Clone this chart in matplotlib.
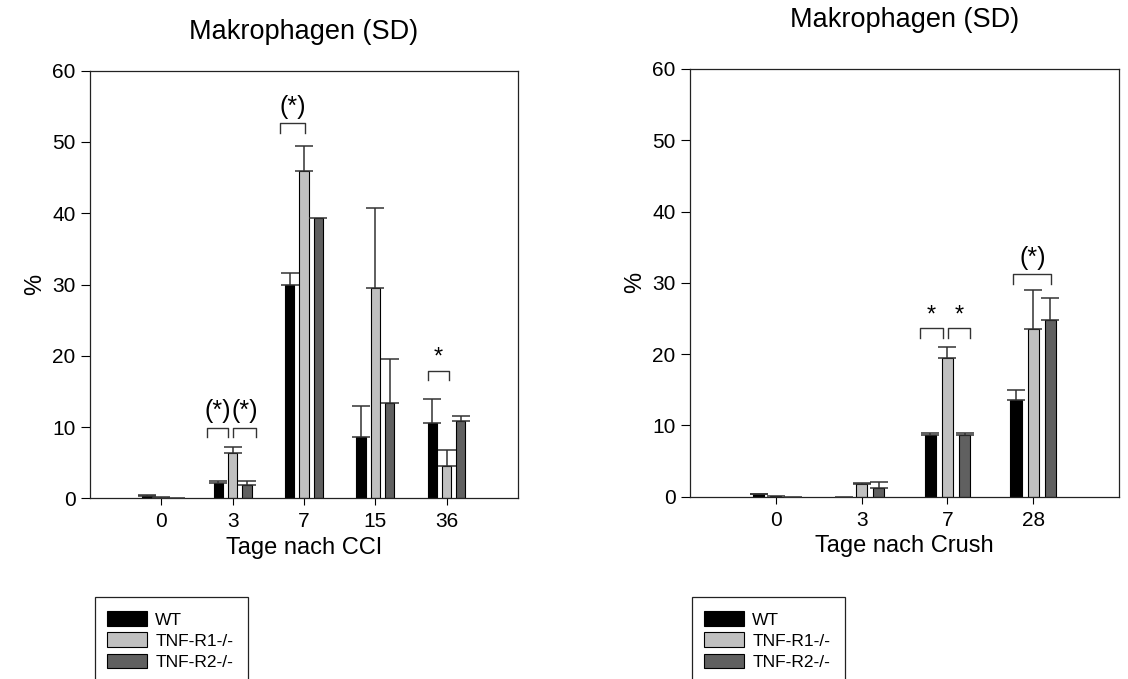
import matplotlib
matplotlib.use("Agg")
import matplotlib.pyplot as plt
import numpy as np
from matplotlib.patches import Patch, Rectangle

plt.rcParams['font.family'] = ['Liberation Sans', 'DejaVu Sans']

groups = ['WT', 'TNF-R1-/-', 'TNF-R2-/-']
colors = ['#000000', '#c0c0c0', '#606060']

# left panel: CCI
cci_days = ['0', '3', '7', '15', '36']
cci_mean = [
    [0.3, 2.2, 29.9, 8.6, 10.6],
    [0.1, 6.3, 45.9, 29.5, 4.6],
    [0.0, 1.9, 39.3, 13.4, 10.8],
]
cci_sd = [
    [0.1, 0.25, 1.7, 4.3, 3.3],
    [0.02, 0.9, 3.5, 11.3, 2.15],
    [np.nan, 0.5, np.nan, 6.2, 0.7],
]
# significance: (group index, left offset, right offset, height, label)
cci_sig = [
    (1, -0.36, -0.07, 9.9, '(*)'),
    (1, 0.01, 0.33, 9.9, '(*)'),
    (2, -0.34, 0.02, 52.6, '(*)'),
    (4, -0.265, 0.04, 17.9, '*'),
]

# right panel: Crush
crush_days = ['0', '3', '7', '28']
crush_mean = [
    [0.35, 0.0, 8.7, 13.6],
    [0.1, 1.8, 19.5, 23.5],
    [0.0, 1.2, 8.7, 24.8],
]
crush_sd = [
    [0.05, np.nan, 0.3, 1.3],
    [np.nan, 0.05, 1.5, 5.5],
    [np.nan, 0.9, 0.2, 3.0],
]
crush_sig = [
    (2, -0.315, -0.055, 23.6, '*'),
    (2, 0.005, 0.26, 23.6, '*'),
    (3, -0.23, 0.21, 31.2, '(*)'),
]


def draw_panel(ax, days, means, sds, sigs, xlabel, title_pad):
    x = np.arange(len(days))
    offsets = [-0.2, 0.0, 0.2]
    for k in range(3):
        ax.bar(x + offsets[k], means[k], width=0.13, color=colors[k],
               edgecolor='black', linewidth=0.8, zorder=2)
        err = np.array(sds[k])
        ax.errorbar(x + offsets[k], means[k], yerr=[np.zeros_like(err), err],
                    fmt='none', ecolor='#333333', elinewidth=1.1,
                    capsize=6.8, capthick=1.1, zorder=3)
    for g, a, b, h, lab in sigs:
        ax.plot([g + a, g + a, g + b, g + b], [h - 1.3, h, h, h - 1.3],
                color='#333333', lw=1.0, zorder=4)
        if lab == '*':
            ax.text(g + (a + b) / 2, h + 0.3, lab, ha='center', va='bottom',
                    fontsize=17)
        else:
            ax.text(g + (a + b) / 2, h + 0.6, lab, ha='center', va='bottom',
                    fontsize=18)
    ax.set_xlim(-1, len(days))
    ax.set_ylim(0, 60)
    ax.set_xticks(x)
    ax.set_xticklabels(days)
    ax.set_yticks(range(0, 61, 10))
    ax.tick_params(axis='y', direction='out', length=6.5, width=0.8,
                   labelsize=15, pad=4)
    ax.tick_params(axis='x', direction='out', length=5, width=0.8,
                   labelsize=15, pad=5)
    for s in ax.spines.values():
        s.set_linewidth(0.9)
        s.set_color('#222222')
    ax.set_xlabel(xlabel, fontsize=17, labelpad=4)
    ax.set_ylabel('%', fontsize=17, labelpad=4)
    ax.set_title('Makrophagen (SD)', fontsize=19.5, pad=title_pad)


fig = plt.figure(figsize=(11.28, 6.79), dpi=100)
ax1 = fig.add_axes([0.0798, 0.2661, 0.3793, 0.6298])
ax2 = fig.add_axes([0.6117, 0.2685, 0.3803, 0.6300])

draw_panel(ax1, cci_days, cci_mean, cci_sd, cci_sig, 'Tage nach CCI', 23)
draw_panel(ax2, crush_days, crush_mean, crush_sd, crush_sig,
           'Tage nach Crush', 30)

handles = [Patch(facecolor=c, edgecolor='black', linewidth=0.8) for c in colors]
for x0 in [95, 692]:
    fig.patches.append(Rectangle((x0 / 1128, -0.05), 153 / 1128,
                                 (679 - 597) / 679 + 0.05,
                                 transform=fig.transFigure, fill=False,
                                 edgecolor='#222222', linewidth=0.9))
    fig.legend(handles, groups, loc='upper left',
               bbox_to_anchor=((x0 + 2) / 1128, (679 - 601) / 679),
               frameon=False, fontsize=12.5, handlelength=2.3,
               handleheight=0.9, labelspacing=0.28, handletextpad=0.45,
               borderpad=0.1)

fig.savefig('out.png', dpi=100)
